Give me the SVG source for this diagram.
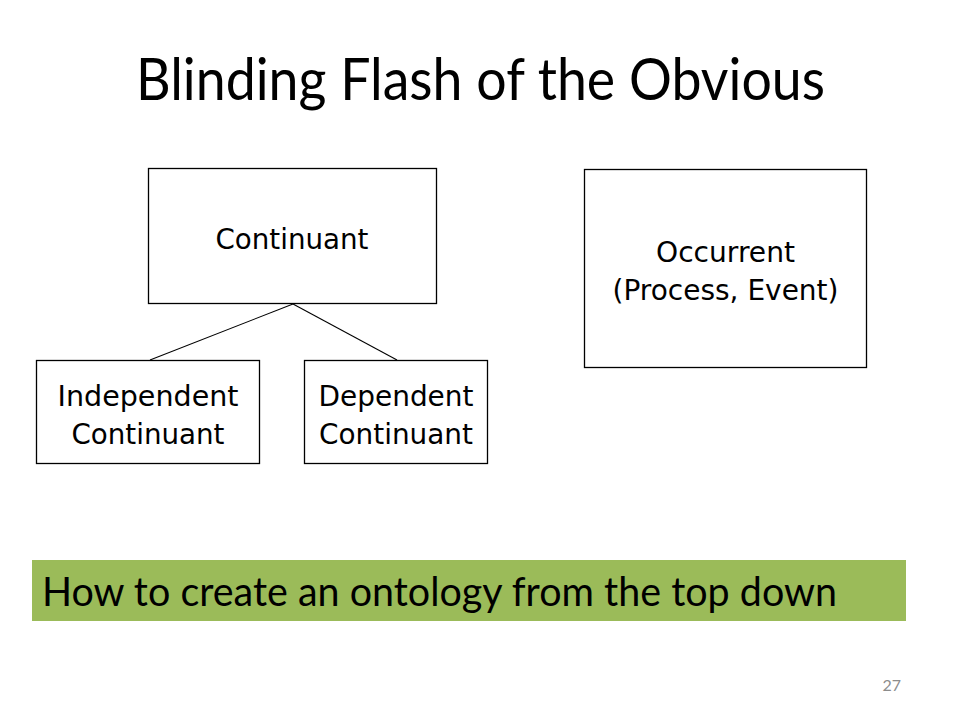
<svg xmlns="http://www.w3.org/2000/svg" width="960" height="720" viewBox="0 0 960 720">
<style>
.box{fill:#ffffff;stroke:#000000;stroke-width:1.3}
.nt{font-family:"DejaVu Sans","Liberation Sans",sans-serif;font-size:29px;fill:#000000;text-anchor:middle}
.cal{font-family:Lato,"Open Sans","Liberation Sans",sans-serif;fill:#000000}
.conn{stroke:#000000;stroke-width:1.1;fill:none}
</style>
<rect x="0" y="0" width="960" height="720" fill="#ffffff"/>
<text class="cal" x="136" y="100" font-size="59" textLength="689" lengthAdjust="spacingAndGlyphs">Blinding Flash of the Obvious</text>
<g id="connectors">
<line class="conn" x1="293" y1="304" x2="150" y2="360"/>
<line class="conn" x1="293" y1="304" x2="397" y2="360"/>
</g>
<g id="continuant">
<rect class="box" x="148.5" y="168.5" width="288" height="135"/>
<text class="nt" x="292" y="249" textLength="153" lengthAdjust="spacingAndGlyphs">Continuant</text>
</g>
<g id="occurrent">
<rect class="box" x="584.5" y="169.5" width="282" height="198"/>
<text class="nt" x="725.5" y="262" textLength="139" lengthAdjust="spacingAndGlyphs">Occurrent</text>
<text class="nt" x="725.5" y="300" textLength="226" lengthAdjust="spacingAndGlyphs">(Process, Event)</text>
</g>
<g id="independent">
<rect class="box" x="36.5" y="360.5" width="223" height="103"/>
<text class="nt" x="148" y="406" textLength="181" lengthAdjust="spacingAndGlyphs">Independent</text>
<text class="nt" x="148" y="444" textLength="153" lengthAdjust="spacingAndGlyphs">Continuant</text>
</g>
<g id="dependent">
<rect class="box" x="304.5" y="360.5" width="183" height="103"/>
<text class="nt" x="396" y="406" textLength="155" lengthAdjust="spacingAndGlyphs">Dependent</text>
<text class="nt" x="396" y="444" textLength="154" lengthAdjust="spacingAndGlyphs">Continuant</text>
</g>
<g id="banner">
<rect x="32" y="560" width="874" height="61" fill="#9bbb59"/>
<text class="cal" x="42" y="606" font-size="41" textLength="795" lengthAdjust="spacingAndGlyphs">How to create an ontology from the top down</text>
</g>
<text x="901" y="691" font-family="Lato,'Open Sans',sans-serif" font-size="16" fill="#8c8c8c" text-anchor="end">27</text>
</svg>
